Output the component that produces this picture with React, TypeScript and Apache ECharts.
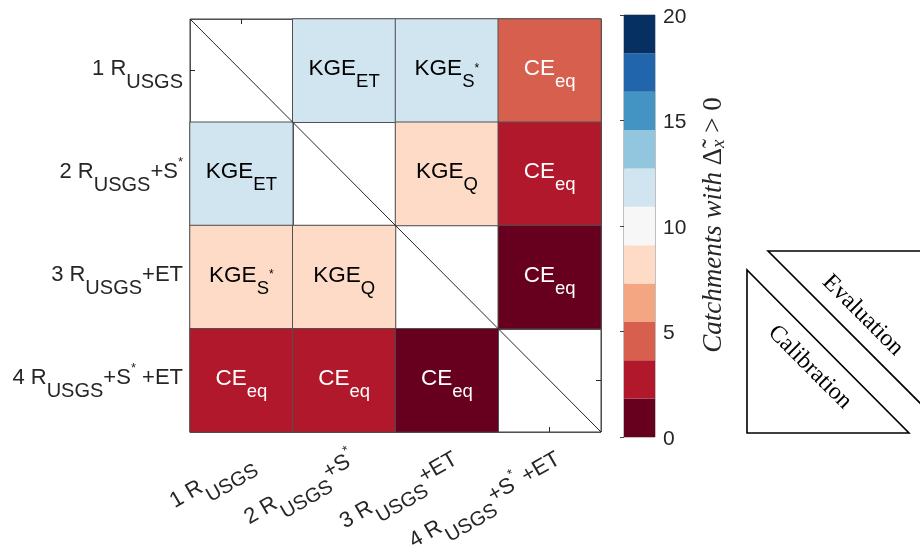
import React, { useEffect, useRef } from 'react';
import * as echarts from 'echarts';

// ---------- data ----------
const models = ['1 R_USGS', '2 R_USGS+S*', '3 R_USGS+ET', '4 R_USGS+S*+ET'];
const modelRich = [
  '{m|1 R}{s|USGS}',
  '{m|2 R}{s|USGS}{m|+S}{p|*}',
  '{m|3 R}{s|USGS}{m|+ET}',
  '{m|4 R}{s|USGS}{m|+S}{p|*}{m| +ET}',
];

// catchments with improvement; rows = y models (top to bottom), columns = x models
const row1Values = [null, 12, 12, 5];
const row2Values = [12, null, 8, 3];
const row3Values = [8, 8, null, 1];
const row4Values = [3, 3, 1, null];

const row1Text = ['', 'KGE_ET', 'KGE_S*', 'CE_eq'];
const row2Text = ['KGE_ET', '', 'KGE_Q', 'CE_eq'];
const row3Text = ['KGE_S*', 'KGE_Q', '', 'CE_eq'];
const row4Text = ['CE_eq', 'CE_eq', 'CE_eq', ''];

const binEdges = [0, 1.82, 3.64, 5.45, 7.27, 9.09, 10.91, 12.73, 14.55, 16.36, 18.18, 20];
const binColors = [
  '#67001f', '#b2182b', '#d6604d', '#f4a582', '#fddbc7', '#f7f7f7',
  '#d1e5f0', '#92c5de', '#4393c3', '#2166ac', '#053061',
];
const colorbarTicks = [0, 5, 10, 15, 20];
const diagonalEnds = [[0, 1], [1, 0]];

const SANS = 'Liberation Sans';
const SERIF = 'Liberation Serif';

const cellRichText: Record<string, (w: boolean) => string> = {
  KGE_ET: (w) => `{m${w ? 'w' : ''}|KGE}{s${w ? 'w' : ''}|ET}`,
  KGE_Q: (w) => `{m${w ? 'w' : ''}|KGE}{s${w ? 'w' : ''}|Q}`,
  'KGE_S*': (w) => `{m${w ? 'w' : ''}|KGE}{s${w ? 'w' : ''}|S}{p${w ? 'w' : ''}|*}`,
  CE_eq: (w) => `{m${w ? 'w' : ''}|CE}{s${w ? 'w' : ''}|eq}`,
};

const mkCellRich = (color: string, suffix: string) => ({
  ['m' + suffix]: { fontFamily: SANS, fontSize: 22.5, color, padding: [0, 0, 6, 0] },
  ['s' + suffix]: { fontFamily: SANS, fontSize: 18.5, color, padding: [20, 0, 0, 0] },
  ['p' + suffix]: { fontFamily: SANS, fontSize: 12, color, padding: [0, 0, 6, 0] },
});

const axisRich = {
  m: { fontFamily: SANS, fontSize: 22, color: '#262626', padding: [0, 0, 7, 0] },
  s: { fontFamily: SANS, fontSize: 20, color: '#262626', padding: [20, 0, 0, 0] },
  p: { fontFamily: SANS, fontSize: 13, color: '#262626', padding: [0, 0, 25, 0] },
};

export default function App() {
  const ref = useRef<HTMLDivElement>(null);
  useEffect(() => {
    if (!ref.current) return;
    const chart = echarts.init(ref.current, undefined, { renderer: 'svg' });
    const rows = [row1Values, row2Values, row3Values, row4Values];
    const texts = [row1Text, row2Text, row3Text, row4Text];
    const heatData: any[] = [];
    rows.forEach((r, yi) =>
      r.forEach((v, xi) => {
        if (v == null) return;
        const key = texts[yi][xi];
        const white = v <= 5;
        heatData.push({
          value: [xi, yi, v],
          label: { formatter: () => cellRichText[key](white) },
        });
      })
    );

    const catAxisCommon = {
      type: 'category' as const,
      data: models,
      gridIndex: 0,
      boundaryGap: true,
      axisLine: { show: false },
      splitLine: { show: true, interval: 0, lineStyle: { color: '#505050', width: 1 } },
      axisTick: { show: true, inside: true, length: 5, alignWithLabel: true, lineStyle: { color: '#262626' } },
    };

    chart.setOption({
      animation: false,
      textStyle: { fontFamily: SANS },
      grid: [
        {
          left: 190, top: 19, width: 411, height: 413, show: true,
          borderColor: '#404040', borderWidth: 1, backgroundColor: '#fff',
          containLabel: false, outerBoundsMode: 'none',
        },
        {
          left: 624, top: 15, width: 31, height: 422, show: true,
          borderColor: '#808080', borderWidth: 1,
          containLabel: false, outerBoundsMode: 'none',
        },
      ],
      xAxis: [
        {
          ...catAxisCommon,
          position: 'bottom',
          axisLabel: {
            rotate: 30,
            margin: 10,
            verticalAlign: 'top',
            formatter: (_v: string, i: number) => modelRich[i],
            rich: axisRich,
          },
        },
        { ...catAxisCommon, position: 'top', axisLabel: { show: false }, splitLine: { show: false } },
        { type: 'value', gridIndex: 0, min: 0, max: 1, show: false },
        { type: 'value', gridIndex: 1, min: 0, max: 1, show: false },
      ],
      yAxis: [
        {
          ...catAxisCommon,
          inverse: true,
          position: 'left',
          axisLabel: {
            margin: 7,
            formatter: (_v: string, i: number) => modelRich[i],
            rich: axisRich,
          },
        },
        { ...catAxisCommon, inverse: true, position: 'right', axisLabel: { show: false }, splitLine: { show: false } },
        { type: 'value', gridIndex: 0, min: 0, max: 1, show: false },
        {
          type: 'value',
          gridIndex: 1,
          min: 0,
          max: 20,
          interval: 5,
          position: 'right',
          z: 5,
          axisLine: { show: false },
          splitLine: { show: false },
          axisTick: { show: true, inside: true, length: 4, lineStyle: { color: '#404040' } },
          axisLabel: {
            margin: 8,
            fontSize: 21,
            fontFamily: SANS,
            color: '#262626',
            formatter: (v: number) => (colorbarTicks.includes(v) ? String(v) : ''),
          },
        },
      ],
      visualMap: {
        type: 'piecewise',
        show: false,
        seriesIndex: 0,
        pieces: binColors.map((c, i) => ({ gte: binEdges[i], lt: binEdges[i + 1], color: c })),
      },
      series: [
        {
          type: 'heatmap',
          xAxisIndex: 0,
          yAxisIndex: 0,
          data: heatData,
          itemStyle: { borderColor: '#505050', borderWidth: 1 },
          label: {
            show: true,
            rich: { ...mkCellRich('#000000', ''), ...mkCellRich('#ffffff', 'w') },
          },
          emphasis: { disabled: true },
          silent: true,
        },
        {
          type: 'line',
          xAxisIndex: 2,
          yAxisIndex: 2,
          data: diagonalEnds,
          symbol: 'none',
          z: 5,
          lineStyle: { color: '#262626', width: 1 },
          silent: true,
        },
        {
          type: 'custom',
          xAxisIndex: 3,
          yAxisIndex: 3,
          silent: true,
          z: 1,
          data: binColors.map((_c, i) => [binEdges[i], binEdges[i + 1], i]),
          renderItem: (_p: any, api: any) => {
            const p0 = api.coord([0, api.value(0)]);
            const p1 = api.coord([1, api.value(1)]);
            return {
              type: 'rect',
              shape: { x: p0[0], y: p1[1], width: p1[0] - p0[0], height: p0[1] - p1[1] },
              style: { fill: binColors[api.value(2)] },
            };
          },
        },
      ],
      graphic: [
        {
          type: 'text',
          x: 712,
          y: 225,
          rotation: Math.PI / 2,
          style: {
            text: '{i|Catchments with }{g|Δ̃}{x|x}{r| > 0}',
            align: 'center',
            verticalAlign: 'middle',
            fill: '#262626',
            rich: {
              i: { fontFamily: SERIF, fontStyle: 'italic', fontSize: 27, fill: '#262626' },
              g: { fontFamily: SERIF, fontSize: 27, fill: '#262626' },
              x: { fontFamily: SERIF, fontStyle: 'italic', fontSize: 19, fill: '#262626', padding: [10, 0, 0, 0] },
              r: { fontFamily: SERIF, fontSize: 27, fill: '#262626' },
            },
          },
        },
        {
          type: 'polygon',
          shape: { points: [[768, 251], [923, 251], [923, 406]] },
          style: { fill: '#fff', stroke: '#000', lineWidth: 1.6 },
        },
        {
          type: 'polygon',
          shape: { points: [[747, 270], [747, 433], [909, 433]] },
          style: { fill: '#fff', stroke: '#000', lineWidth: 1.6 },
        },
        {
          type: 'text',
          x: 864,
          y: 314,
          rotation: -Math.PI / 4,
          style: { text: 'Evaluation', fontFamily: SERIF, fontSize: 24, fill: '#000', align: 'center', verticalAlign: 'middle' },
        },
        {
          type: 'text',
          x: 811,
          y: 366,
          rotation: -Math.PI / 4,
          style: { text: 'Calibration', fontFamily: SERIF, fontSize: 24, fill: '#000', align: 'center', verticalAlign: 'middle' },
        },
      ],
    });
    return () => chart.dispose();
  }, []);
  return <div ref={ref} style={{ position: 'fixed', left: 0, top: 0, width: 920, height: 552 }} />;
}
